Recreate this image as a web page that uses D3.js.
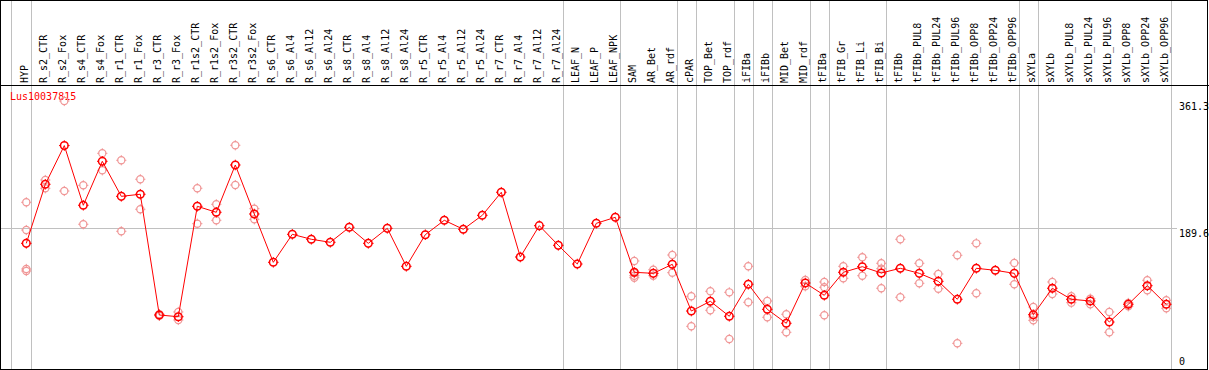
<!DOCTYPE html>
<html>
<head>
<meta charset="utf-8">
<script src="https://cdn.jsdelivr.net/npm/d3@7"></script>
<style>
  body { margin: 0; background: #fff; }
  svg { display: block; }
  text { font-family: "DejaVu Sans Mono", monospace; font-size: 10px; }
</style>
</head>
<body>
<svg id="chart" width="1209" height="370"></svg>
<script>
// gene plotted
const geneId = 'Lus10037815'

// sample columns, left to right
const columns = [
  'HYP', 'R_s2_CTR', 'R_s2_Fox', 'R_s4_CTR', 'R_s4_Fox', 'R_r1_CTR', 'R_r1_Fox', 'R_r3_CTR', 'R_r3_Fox',
  'R_r1s2_CTR', 'R_r1s2_Fox', 'R_r3s2_CTR', 'R_r3s2_Fox', 'R_s6_CTR', 'R_s6_Al4', 'R_s6_Al12', 'R_s6_Al24',
  'R_s8_CTR', 'R_s8_Al4', 'R_s8_Al12', 'R_s8_Al24', 'R_r5_CTR', 'R_r5_Al4', 'R_r5_Al12', 'R_r5_Al24',
  'R_r7_CTR', 'R_r7_Al4', 'R_r7_Al12', 'R_r7_Al24', 'LEAF_N', 'LEAF_P', 'LEAF_NPK', 'SAM', 'AR_Bet', 'AR_rdf',
  'cPAR', 'TOP_Bet', 'TOP_rdf', 'iFIBa', 'iFIBb', 'MID_Bet', 'MID_rdf', 'tFIBa', 'tFIB_Gr', 'tFIB_Li', 'tFIB_Bi',
  'tFIBb', 'tFIBb_PUL8', 'tFIBb_PUL24', 'tFIBb_PUL96', 'tFIBb_OPP8', 'tFIBb_OPP24', 'tFIBb_OPP96',
  'sXYLa', 'sXYLb', 'sXYLb_PUL8', 'sXYLb_PUL24', 'sXYLb_PUL96', 'sXYLb_OPP8', 'sXYLb_OPP24', 'sXYLb_OPP96'
]

// mean expression per column (red line)
const meanValues = [
  168.7, 248.6, 301.0, 220.2, 279.7, 232.3, 235.1, 71.7, 69.4, 218.8,
  210.7, 274.7, 208.4, 143.0, 180.9, 174.2, 170.1, 190.4, 168.7, 189.0,
  137.6, 180.4, 199.9, 187.7, 206.6, 237.8, 150.2, 192.6, 166.0, 140.7,
  195.8, 203.9, 129.5, 128.1, 140.3, 77.1, 90.3, 70.0, 113.3, 79.4,
  60.5, 115.0, 98.4, 129.5, 137.1, 128.6, 134.9, 128.1, 117.3, 93.0,
  134.9, 132.2, 128.1, 72.1, 107.9, 93.0, 90.7, 62.2, 86.2, 111.4, 86.2
]

// individual replicates per column (pink circles)
const replicateValues = [
  [224.2, 186.7, 134.0, 131.3], [254.4, 243.2], [361.3, 239.5], [247.2, 194.5], [290.5, 267.5],
  [281.1, 185.0], [255.4, 214.8], [70.5, 72.9], [75.8, 65.0], [243.2, 195.3],
  [221.5, 199.9], [301.4, 247.6], [215.6, 201.2], [], [], [], [], [], [], [],
  [], [], [], [], [], [], [], [], [], [],
  [], [], [144.8, 128.6, 124.9, 122.2], [133.0, 124.9], [152.9, 129.0], [97.0, 56.4], [103.8, 78.1], [102.4, 39.2], [137.6, 88.9], [90.7, 68.6],
  [72.7, 48.3], [119.1, 110.6], [116.4, 109.2, 71.3], [137.6, 121.4], [149.8, 124.9], [141.7, 134.4, 107.9], [174.2, 95.7], [141.7, 114.6], [127.2, 107.3], [152.5, 33.4],
  [168.7, 101.1], [], [142.1, 113.3], [82.5, 69.0, 64.5], [116.4, 100.1], [97.0, 88.4], [93.8, 86.2], [75.8, 48.3], [88.0, 83.5], [118.7, 105.1], [91.6, 80.8]
]

// last column of each tissue group (grey separators)
const groupEnds = ['HYP', 'R_r7_Al24', 'LEAF_NPK', 'AR_rdf', 'cPAR', 'TOP_rdf', 'iFIBa', 'iFIBb',
  'MID_rdf', 'tFIBa', 'tFIB_Bi', 'tFIBb_OPP96', 'sXYLa', 'sXYLb_OPP96']

const yTicks = [0, 189.6, 361.3]
const gridValue = 189.6

const W = 1209, H = 370
const headerBottom = 85

const svg = d3.select('#chart')
svg.append('rect').attr('width', W).attr('height', H).attr('fill', '#fff')

const x = d3.scalePoint().domain(columns).range([26.3, 1166.3])
const y = d3.scaleLinear().domain([0, d3.max(yTicks)]).range([368, 101])

const px = v => Math.round(v) + 0.5

// separators
const sepX = [x(columns[0]) - 15.5].concat(groupEnds.map(c => x(c) + 4.5))
svg.append('g').selectAll('line')
  .data(sepX)
  .join('line')
  .attr('x1', d => px(d)).attr('x2', d => px(d))
  .attr('y1', 0).attr('y2', H)
  .attr('stroke', '#c0c0c0')
  .attr('shape-rendering', 'crispEdges')

// horizontal grid line
svg.append('line')
  .attr('x1', 1).attr('x2', 1177)
  .attr('y1', px(y(gridValue))).attr('y2', px(y(gridValue)))
  .attr('stroke', '#c0c0c0')
  .attr('shape-rendering', 'crispEdges')

// header
svg.append('line')
  .attr('x1', 0).attr('x2', W)
  .attr('y1', headerBottom + 0.5).attr('y2', headerBottom + 0.5)
  .attr('stroke', '#000')
  .attr('shape-rendering', 'crispEdges')

svg.append('g').selectAll('text')
  .data(columns)
  .join('text')
  .attr('transform', d => `translate(${x(d) + 2},${headerBottom - 2}) rotate(-90)`)
  .attr('fill', '#000')
  .text(d => d)

// frame
svg.append('rect')
  .attr('x', 0.5).attr('y', 0.5)
  .attr('width', 1207).attr('height', 368.5)
  .attr('fill', 'none').attr('stroke', '#000')
  .attr('shape-rendering', 'crispEdges')

// y labels on the right
svg.append('g').selectAll('text')
  .data(yTicks)
  .join('text')
  .attr('x', 1179)
  .attr('y', d => d === 0 ? y(d) - 3 : y(d) + 9)
  .attr('fill', '#000')
  .text(d => d)

svg.append('text')
  .attr('x', 10).attr('y', 100)
  .attr('fill', '#ff0000')
  .text(geneId)

const tickPath = r => `M0,${-r - 1.5}V${-r + 0.5}M0,${r - 0.5}V${r + 1.5}M${-r - 1.5},0H${-r + 0.5}M${r - 0.5},0H${r + 1.5}`

function drawMarkers(sel, color, r, w) {
  sel.append('circle')
    .attr('r', r)
    .attr('fill', 'none')
    .attr('stroke', color)
    .attr('stroke-width', w)
  sel.append('path')
    .attr('d', tickPath(r))
    .attr('stroke', color)
    .attr('stroke-width', 1)
}

// replicates
const reps = columns.flatMap((c, i) => replicateValues[i].map(v => ({ c, v })))
svg.append('g').selectAll('g')
  .data(reps)
  .join('g')
  .attr('transform', d => `translate(${x(d.c)},${y(d.v)})`)
  .call(drawMarkers, 'rgb(240,150,150)', 3.6, 1.2)

// mean line
const line = d3.line().x((d, i) => x(columns[i])).y(d => y(d))
svg.append('path')
  .datum(meanValues)
  .attr('d', line)
  .attr('fill', 'none')
  .attr('stroke', '#ff0000')
  .attr('stroke-width', 1)

svg.append('g').selectAll('g')
  .data(meanValues)
  .join('g')
  .attr('transform', (d, i) => `translate(${x(columns[i])},${y(d)})`)
  .call(drawMarkers, '#ff0000', 3.8, 1.5)
</script>
</body>
</html>
